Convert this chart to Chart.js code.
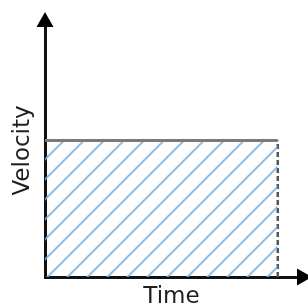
<!DOCTYPE html>
<html>
<head>
<meta charset="utf-8">
<script src="https://cdn.jsdelivr.net/npm/chart.js@4/dist/chart.umd.min.js"></script>
<style>
  html, body { margin: 0; padding: 0; background: #fff; }
  canvas { display: block; }
</style>
</head>
<body>
<canvas id="chart" width="308" height="307"></canvas>
<script>
// values
const times = [0, 9.2]
const velocity = [5.4, 5.4]
const endTime = [9.2, 9.2]
const endLevel = [0, 5.4]
const xMax = 10
const yMax = 10

// diagonal hatch used as the area fill
function makeHatch(size, color) {
  const c = document.createElement('canvas')
  c.width = size
  c.height = size
  const g = c.getContext('2d')
  g.strokeStyle = color
  g.lineWidth = 1.6
  g.beginPath()
  g.moveTo(-1, size + 1); g.lineTo(size + 1, -1)
  g.moveTo(-1, 1); g.lineTo(1, -1)
  g.moveTo(size - 1, size + 1); g.lineTo(size + 1, size - 1)
  g.stroke()
  const p = g.createPattern(c, 'repeat')
  p.setTransform(new DOMMatrix().translate(4.4, 0))
  return p
}

const hatch = makeHatch(20, '#7aafe0')

// arrow heads at the ends of both axes
const arrows = {
  id: 'arrows',
  afterDraw(chart) {
    const { ctx, chartArea: a } = chart
    ctx.save()
    ctx.fillStyle = '#000'
    ctx.beginPath()
    ctx.moveTo(a.left, a.top - 12)
    ctx.lineTo(a.left - 8.5, a.top + 3)
    ctx.lineTo(a.left + 8.5, a.top + 3)
    ctx.closePath()
    ctx.fill()
    ctx.beginPath()
    ctx.moveTo(a.right + 14, a.bottom)
    ctx.lineTo(a.right - 1, a.bottom - 8.5)
    ctx.lineTo(a.right - 1, a.bottom + 8.5)
    ctx.closePath()
    ctx.fill()
    ctx.restore()
  }
}

new Chart(document.getElementById('chart'), {
  type: 'line',
  data: {
    datasets: [
      {
        data: times.map((t, i) => ({ x: t, y: velocity[i] })),
        borderColor: '#7a7a7a',
        borderWidth: 3,
        backgroundColor: hatch,
        fill: 'origin',
        pointRadius: 0,
        order: 1
      },
      {
        data: endTime.map((t, i) => ({ x: t, y: endLevel[i] })),
        borderColor: '#555',
        borderWidth: 2.5,
        borderDash: [5, 3],
        fill: false,
        pointRadius: 0,
        order: 2
      }
    ]
  },
  options: {
    responsive: false,
    animation: false,
    layout: { padding: { top: 24, right: 10, left: 0, bottom: 0 } },
    plugins: {
      legend: { display: false },
      tooltip: { enabled: false }
    },
    scales: {
      x: {
        type: 'linear',
        min: 0,
        max: xMax,
        z: 1,
        grid: { display: false },
        border: { display: true, color: '#111', width: 3 },
        ticks: { display: false },
        title: {
          display: true, text: 'Time', color: '#1e1e1e',
          font: { family: 'DejaVu Sans', size: 23, lineHeight: 0.9 },
          padding: { top: 0, bottom: 0 }
        },
        afterFit(scale) { scale.height = 30 }
      },
      y: {
        min: 0,
        max: yMax,
        z: 1,
        grid: { display: false },
        border: { display: true, color: '#111', width: 3 },
        ticks: { display: false },
        title: {
          display: true, text: 'Velocity', color: '#1e1e1e',
          font: { family: 'DejaVu Sans', size: 23 },
          padding: { top: 9, bottom: 0 }
        },
        afterFit(scale) { scale.width = 45 }
      }
    }
  },
  plugins: [arrows]
})
</script>
</body>
</html>
